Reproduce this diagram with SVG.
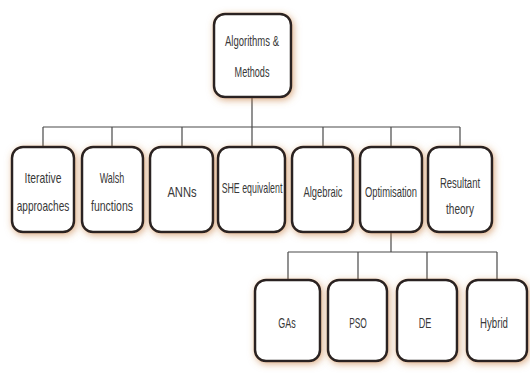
<svg xmlns="http://www.w3.org/2000/svg" width="530" height="376" viewBox="0 0 530 376">
<defs>
<filter id="sh" x="-30%" y="-30%" width="160%" height="160%">
<feDropShadow dx="1.5" dy="2" stdDeviation="3.5" flood-color="#c47a3a" flood-opacity="0.6"/>
</filter>
</defs>
<style>
.box{fill:#fff;stroke:#2b2420;stroke-width:2.5;filter:url(#sh)}
.t{font-family:"Liberation Sans",Arial,sans-serif;font-size:14px;fill:#383838;text-anchor:middle}
.c{stroke:#4a4a4a;stroke-width:1.2;fill:none}
</style>
<rect width="530" height="376" fill="#fff"/>
<g id="connectors">
<path class="c" d="M252 97V127M43 127H460M43 127V147M112 127V147M182 127V147M252 127V147M323 127V147M391 127V147M460 127V147"/>
<path class="c" d="M391 232V252M288 252H497M288 252V280M358 252V280M427 252V280M497 252V280"/>
</g>
<g id="root">
<rect class="box" x="214" y="14" width="77" height="83" rx="11"/>
<text class="t" transform="translate(252,46) scale(0.68,1)">Algorithms &amp;</text>
<text class="t" transform="translate(252,77) scale(0.65,1)">Methods</text>
</g>
<g id="iterative">
<rect class="box" x="12" y="147" width="62" height="85" rx="11"/>
<text class="t" transform="translate(43,183) scale(0.74,1)">Iterative</text>
<text class="t" transform="translate(43,211) scale(0.72,1)">approaches</text>
</g>
<g id="walsh">
<rect class="box" x="82" y="147" width="61" height="85" rx="11"/>
<text class="t" transform="translate(112,183) scale(0.64,1)">Walsh</text>
<text class="t" transform="translate(112,211) scale(0.75,1)">functions</text>
</g>
<g id="anns">
<rect class="box" x="150" y="147" width="63" height="85" rx="11"/>
<text class="t" transform="translate(182,197) scale(0.8,1)">ANNs</text>
</g>
<g id="she">
<rect class="box" x="218" y="147" width="67" height="85" rx="11"/>
<text class="t" transform="translate(252,193) scale(0.63,1)">SHE equivalent</text>
</g>
<g id="algebraic">
<rect class="box" x="292" y="147" width="61" height="85" rx="11"/>
<text class="t" transform="translate(323,197) scale(0.67,1)">Algebraic</text>
</g>
<g id="optimisation">
<rect class="box" x="360" y="147" width="62" height="85" rx="11"/>
<text class="t" transform="translate(391,197) scale(0.67,1)">Optimisation</text>
</g>
<g id="resultant">
<rect class="box" x="428" y="147" width="64" height="85" rx="11"/>
<text class="t" transform="translate(460,188) scale(0.68,1)">Resultant</text>
<text class="t" transform="translate(460,214) scale(0.72,1)">theory</text>
</g>
<g id="gas">
<rect class="box" x="255" y="280" width="65" height="81" rx="11"/>
<text class="t" transform="translate(287,328) scale(0.64,1)">GAs</text>
</g>
<g id="pso">
<rect class="box" x="328" y="280" width="59" height="81" rx="11"/>
<text class="t" transform="translate(358,328) scale(0.6,1)">PSO</text>
</g>
<g id="de">
<rect class="box" x="397" y="280" width="60" height="81" rx="11"/>
<text class="t" transform="translate(425,328) scale(0.65,1)">DE</text>
</g>
<g id="hybrid">
<rect class="box" x="467" y="280" width="60" height="81" rx="11"/>
<text class="t" transform="translate(494,328) scale(0.69,1)">Hybrid</text>
</g>
</svg>
